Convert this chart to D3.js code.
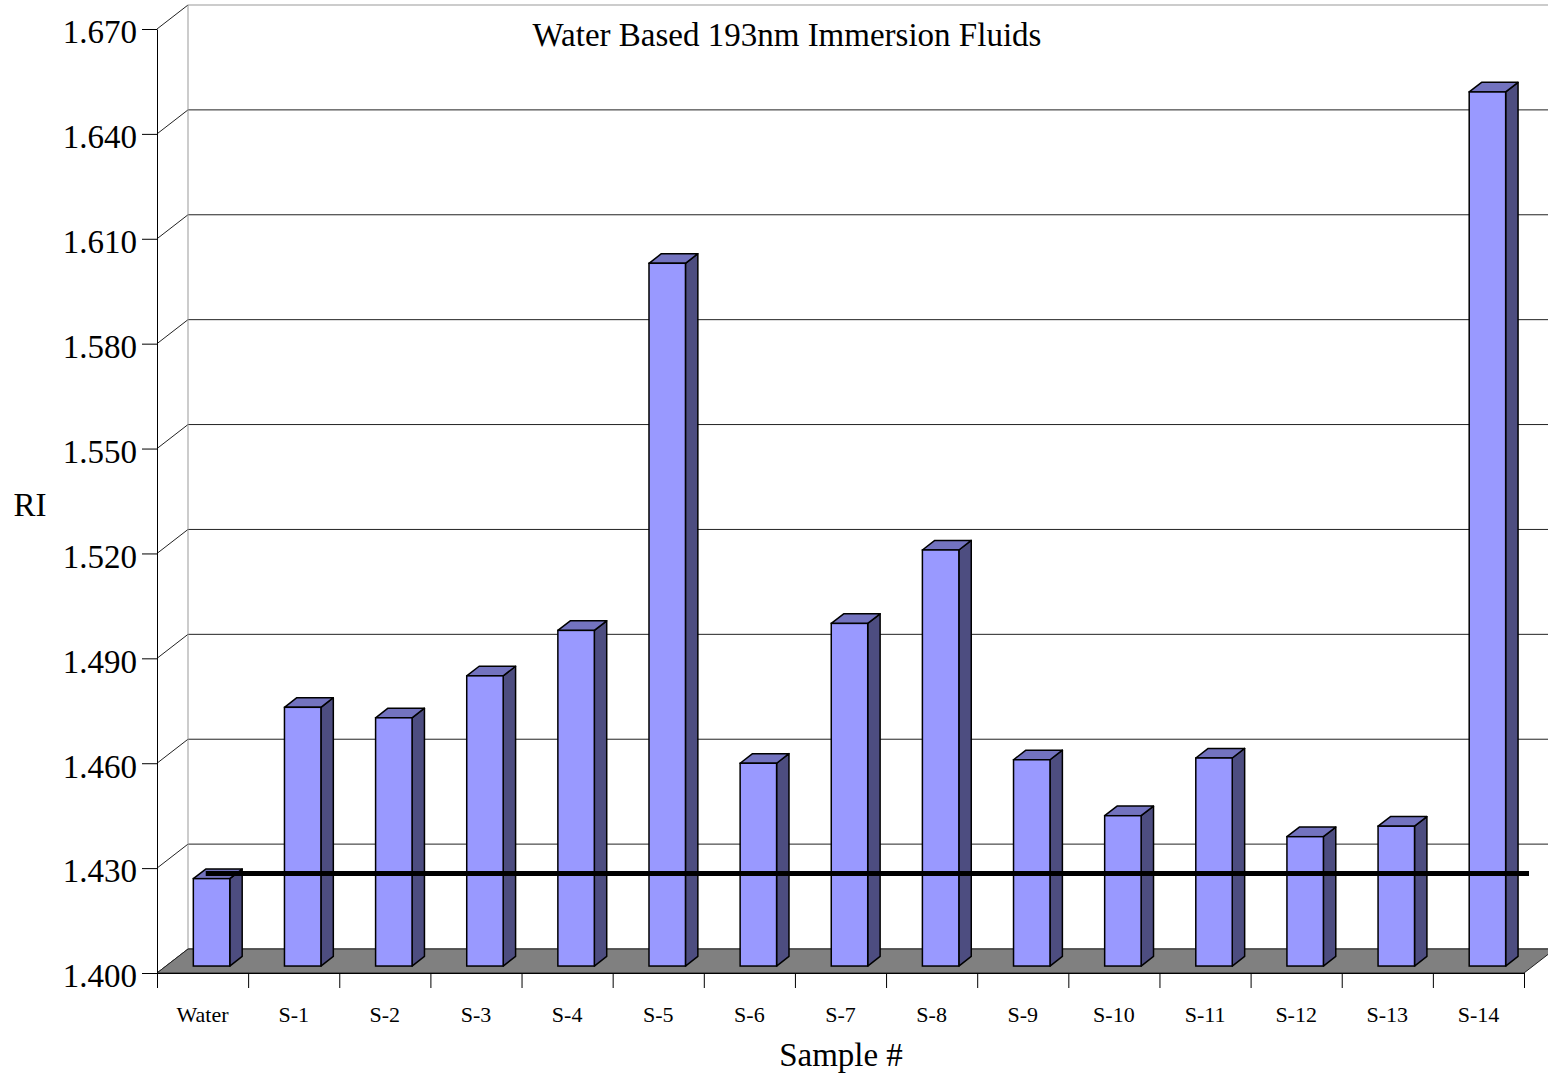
<!DOCTYPE html>
<html>
<head>
<meta charset="UTF-8">
<title>Water Based 193nm Immersion Fluids</title>
<style>
    body { margin: 0; background: #fff; }
    svg { font-family: "Liberation Serif", "Times New Roman", serif; }
    .axis path, .axis line { stroke: #000; stroke-width: 1px; }
    .axis text { font-family: "Liberation Serif", serif; fill: #000; }
</style>
</head>
<body>
<script src="https://cdn.jsdelivr.net/npm/d3@7/dist/d3.min.js"></script>
<script>
    // data
    var categories = ["Water", "S-1", "S-2", "S-3", "S-4", "S-5", "S-6", "S-7",
                      "S-8", "S-9", "S-10", "S-11", "S-12", "S-13", "S-14"];
    var riValues = [1.425, 1.474, 1.471, 1.483, 1.496, 1.601, 1.458, 1.498,
                    1.519, 1.459, 1.443, 1.4595, 1.437, 1.440, 1.650];
    var yTicks = [1.400, 1.430, 1.460, 1.490, 1.520, 1.550, 1.580, 1.610, 1.640, 1.670];
    var waterLine = 1.425;

    var width = 1548, height = 1074;
    var plotLeft = 157, plotRight = 1524, plotBottom = 973, plotTop = 29;
    var depthX = 31, depthY = -24;      // full depth of the 3d box
    var f0 = 0.29, f1 = 0.69;           // bar front / back depth fraction

    var x = d3.scaleBand()
        .domain(categories)
        .range([plotLeft, plotRight])
        .paddingInner(0.6)
        .paddingOuter(0.3);

    var xStep = d3.scaleBand().domain(categories).range([plotLeft, plotRight]);

    var y = d3.scaleLinear()
        .domain([1.400, 1.670])
        .range([plotBottom, plotTop]);

    var svg = d3.select("body").append("svg")
        .attr("width", width)
        .attr("height", height);

    // back wall grid lines
    svg.append("g").selectAll("line")
        .data(yTicks)
        .enter().append("line")
        .attr("x1", plotLeft + depthX)
        .attr("x2", plotRight + depthX)
        .attr("y1", function(d) { return y(d) + depthY; })
        .attr("y2", function(d) { return y(d) + depthY; })
        .attr("stroke", function(d, i) { return i == yTicks.length - 1 ? "#999" : "#222"; })
        .attr("stroke-width", 1);

    // side wall grid lines
    svg.append("g").selectAll("line")
        .data(yTicks)
        .enter().append("line")
        .attr("x1", plotLeft)
        .attr("x2", plotLeft + depthX)
        .attr("y1", function(d) { return y(d); })
        .attr("y2", function(d) { return y(d) + depthY; })
        .attr("stroke", "#222")
        .attr("stroke-width", 1);

    // back wall left edge
    svg.append("line")
        .attr("x1", plotLeft + depthX).attr("x2", plotLeft + depthX)
        .attr("y1", y(1.670) + depthY).attr("y2", y(1.400) + depthY)
        .attr("stroke", "#999");

    // floor
    svg.append("path")
        .attr("d", "M" + plotLeft + "," + y(1.4) +
                   "L" + plotRight + "," + y(1.4) +
                   "L" + (plotRight + depthX) + "," + (y(1.4) + depthY) +
                   "L" + (plotLeft + depthX) + "," + (y(1.4) + depthY) + "Z")
        .attr("fill", "#808080")
        .attr("stroke", "#222")
        .attr("stroke-width", 1);

    // bars
    var bars = svg.append("g").selectAll("g")
        .data(categories.map(function(c, i) { return {cat: c, v: riValues[i]}; }))
        .enter().append("g");

    function fx(d, f) { return x(d.cat) + depthX * f; }
    function fy(v, f) { return y(v) + depthY * f; }

    bars.append("path")   // side
        .attr("d", function(d) {
            var x1 = fx(d, f0) + x.bandwidth(), x2 = fx(d, f1) + x.bandwidth();
            return "M" + x1 + "," + fy(1.4, f0) + "L" + x1 + "," + fy(d.v, f0) +
                   "L" + x2 + "," + fy(d.v, f1) + "L" + x2 + "," + fy(1.4, f1) + "Z";
        })
        .attr("fill", "#4d4d80").attr("stroke", "#000").attr("stroke-width", 1.5)
        .attr("stroke-linejoin", "round");

    bars.append("path")   // top
        .attr("d", function(d) {
            var w = x.bandwidth();
            return "M" + fx(d, f0) + "," + fy(d.v, f0) + "L" + (fx(d, f0) + w) + "," + fy(d.v, f0) +
                   "L" + (fx(d, f1) + w) + "," + fy(d.v, f1) + "L" + fx(d, f1) + "," + fy(d.v, f1) + "Z";
        })
        .attr("fill", "#7373bf").attr("stroke", "#000").attr("stroke-width", 1.5)
        .attr("stroke-linejoin", "round");

    bars.append("rect")   // front
        .attr("x", function(d) { return fx(d, f0); })
        .attr("y", function(d) { return fy(d.v, f0); })
        .attr("width", x.bandwidth())
        .attr("height", function(d) { return fy(1.4, f0) - fy(d.v, f0); })
        .attr("fill", "#9999ff").attr("stroke", "#000").attr("stroke-width", 1.5);

    // water reference line
    svg.append("line")
        .attr("x1", x("Water") + depthX * f1)
        .attr("x2", plotRight + 5)
        .attr("y1", fy(waterLine, 0.5))
        .attr("y2", fy(waterLine, 0.5))
        .attr("stroke", "#000")
        .attr("stroke-width", 5);

    // y axis
    var yAxis = d3.axisLeft(y)
        .tickValues(yTicks)
        .tickFormat(d3.format(".3f"))
        .tickSize(15)
        .tickSizeOuter(0)
        .tickPadding(5);

    svg.append("g")
        .attr("class", "axis")
        .attr("transform", "translate(" + plotLeft + ",0)")
        .call(yAxis)
        .selectAll("text")
        .attr("dy", "0.42em")
        .style("font-size", "33px");

    // x axis: boundary ticks
    var xb = d3.scaleLinear().domain([0, categories.length]).range([plotLeft, plotRight]);
    svg.append("g")
        .attr("class", "axis")
        .attr("transform", "translate(0," + plotBottom + ")")
        .call(d3.axisBottom(xb).tickValues(d3.range(categories.length + 1))
              .tickFormat("").tickSize(15).tickSizeOuter(0));

    // x axis labels
    svg.append("g")
        .attr("class", "axis")
        .attr("transform", "translate(0," + plotBottom + ")")
        .call(d3.axisBottom(xStep).tickSize(0).tickPadding(33))
        .call(function(g) { g.select(".domain").remove(); })
        .selectAll("text")
        .style("font-size", "22px");

    // titles
    svg.append("text")
        .attr("x", 787).attr("y", 46)
        .attr("text-anchor", "middle")
        .style("font-size", "33px")
        .text("Water Based 193nm Immersion Fluids");

    svg.append("text")
        .attr("x", 30).attr("y", 516)
        .attr("text-anchor", "middle")
        .style("font-size", "33px")
        .text("RI");

    svg.append("text")
        .attr("x", 841).attr("y", 1066)
        .attr("text-anchor", "middle")
        .style("font-size", "33px")
        .text("Sample #");
</script>
</body>
</html>
